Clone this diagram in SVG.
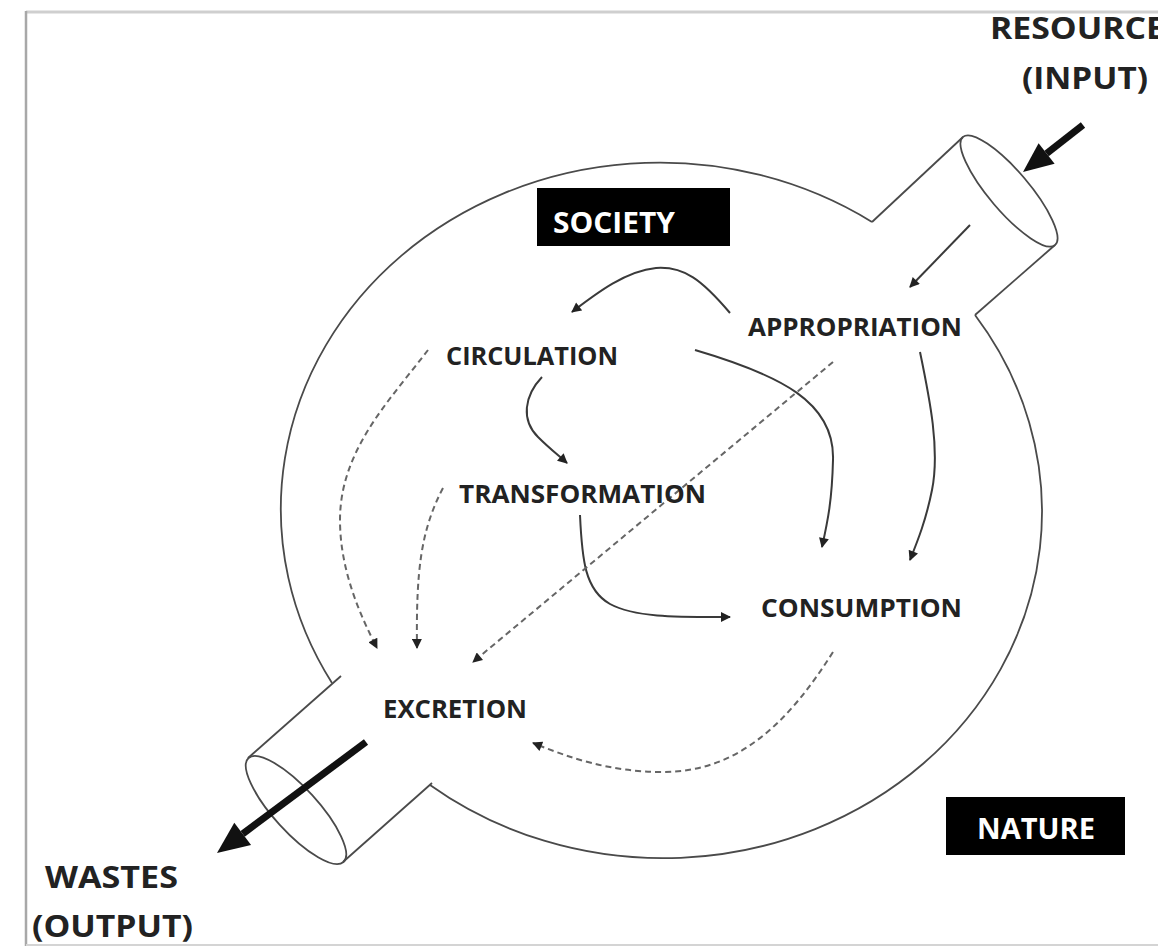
<svg xmlns="http://www.w3.org/2000/svg" width="1158" height="947" viewBox="0 0 1158 947">
  <style>
    .lbl { font-family: "Open Sans", "Liberation Sans", sans-serif; font-weight: 700; fill: #222; }
    .inner { font-size: 25px; }
    .outer { font-size: 30px; }
    .boxtxt { font-family: "Open Sans", "Liberation Sans", sans-serif; font-weight: 700; font-size: 28px; fill: #fff; }
    .outline { fill: none; stroke: #4a4a4a; stroke-width: 1.8; stroke-linejoin: miter; }
    .solid { fill: none; stroke: #3a3a3a; stroke-width: 2; }
    .dash { fill: none; stroke: #666; stroke-width: 2; stroke-dasharray: 6 4; }
    .big { fill: #111; stroke: none; }
  </style>
  <defs>
    <marker id="ah" viewBox="0 0 10 10" refX="9" refY="5" markerWidth="11" markerHeight="10" markerUnits="userSpaceOnUse" orient="auto">
      <path d="M0,0 L10,5 L0,10 z" fill="#222"/>
    </marker>
  </defs>

  <rect x="0" y="0" width="1158" height="947" fill="#fff"/>

  <g id="frame">
    <line x1="26" y1="12" x2="1158" y2="12" stroke="#cfcfcf" stroke-width="3"/>
    <line x1="26" y1="11" x2="26" y2="946" stroke="#a8a8a8" stroke-width="2.5"/>
    <line x1="26" y1="945" x2="1158" y2="945" stroke="#d4d4d4" stroke-width="2"/>
  </g>

  <g id="society-boundary">
    <path class="outline" d="M872,222 A379,346.5 0 0 0 332,683"/>
    <path class="outline" d="M341,676 L248,758"/>
    <ellipse class="outline" cx="296" cy="810" rx="70.4" ry="22" transform="rotate(47.6 296 810)"/>
    <path class="outline" d="M343,862 L432,783"/>
    <path class="outline" d="M430,785 A379,346.5 0 0 0 975,315"/>
    <path class="outline" d="M975,315 L1055,245"/>
    <ellipse class="outline" cx="1009" cy="191" rx="71" ry="20" transform="rotate(49.6 1009 191)"/>
    <path class="outline" d="M963,137 L872,222"/>
  </g>

  <g id="connectors">
    <!-- flow arrows -->
    <path class="solid" marker-end="url(#ah)" d="M970,225 L910,287"/>
    <path class="solid" marker-end="url(#ah)" d="M730,313 C702,280 684,266 656,268 C626,271 598,292 572,312"/>
    <path class="solid" marker-end="url(#ah)" d="M542,377 C524,396 521,420 538,437 C549,448 558,455 567,463"/>
    <path class="solid" marker-end="url(#ah)" d="M695,350 C780,375 835,402 833,460 C832,500 828,520 822,547"/>
    <path class="solid" marker-end="url(#ah)" d="M920,352 C930,400 940,450 932,490 C926,520 918,540 910,560"/>
    <path class="solid" marker-end="url(#ah)" d="M580,515 C582,560 585,590 610,604 C636,618 680,617 730,617"/>
    <path class="dash" marker-end="url(#ah)" d="M428,350 C390,400 340,450 340,520 C340,570 360,615 377,648"/>
    <path class="dash" marker-end="url(#ah)" d="M443,488 C421,530 416,570 417,648"/>
    <path class="dash" marker-end="url(#ah)" d="M833,362 L473,662"/>
    <path class="dash" marker-end="url(#ah)" d="M833,652 C790,720 740,772 663,772 C610,772 570,758 533,743"/>
    <!-- input / output arrows -->
    <line x1="1083" y1="125" x2="1046.6" y2="153.5" stroke="#111" stroke-width="7"/>
    <polygon class="big" points="1023,172 1054.6,163.7 1038.6,143.3"/>
    <line x1="366" y1="742" x2="242.7" y2="833.9" stroke="#111" stroke-width="7"/>
    <polygon class="big" points="217,853 251.1,845.1 234.3,822.7"/>
  </g>

  <g id="node-resource">
    <text class="lbl outer" x="990" y="39" textLength="175" lengthAdjust="spacingAndGlyphs">RESOURCE</text>
    <text class="lbl outer" x="1022" y="89" textLength="126" lengthAdjust="spacingAndGlyphs">(INPUT)</text>
  </g>
  <g id="node-wastes">
    <text class="lbl outer" x="45" y="888" textLength="133" lengthAdjust="spacingAndGlyphs">WASTES</text>
    <text class="lbl outer" x="32" y="937" textLength="161" lengthAdjust="spacingAndGlyphs">(OUTPUT)</text>
  </g>
  <g id="node-society">
    <rect x="537" y="188" width="193" height="58" fill="#000"/>
    <text class="boxtxt" x="553" y="233" textLength="122" lengthAdjust="spacingAndGlyphs">SOCIETY</text>
  </g>
  <g id="node-nature">
    <rect x="946" y="797" width="179" height="58" fill="#000"/>
    <text class="boxtxt" x="977" y="839" textLength="118" lengthAdjust="spacingAndGlyphs">NATURE</text>
  </g>
  <g id="node-appropriation">
    <text class="lbl inner" x="748" y="336" textLength="214" lengthAdjust="spacingAndGlyphs">APPROPRIATION</text>
  </g>
  <g id="node-circulation">
    <text class="lbl inner" x="446" y="365" textLength="172" lengthAdjust="spacingAndGlyphs">CIRCULATION</text>
  </g>
  <g id="node-transformation">
    <text class="lbl inner" x="459" y="503" textLength="247" lengthAdjust="spacingAndGlyphs">TRANSFORMATION</text>
  </g>
  <g id="node-consumption">
    <text class="lbl inner" x="761" y="617" textLength="201" lengthAdjust="spacingAndGlyphs">CONSUMPTION</text>
  </g>
  <g id="node-excretion">
    <text class="lbl inner" x="383" y="718" textLength="144" lengthAdjust="spacingAndGlyphs">EXCRETION</text>
  </g>
</svg>
